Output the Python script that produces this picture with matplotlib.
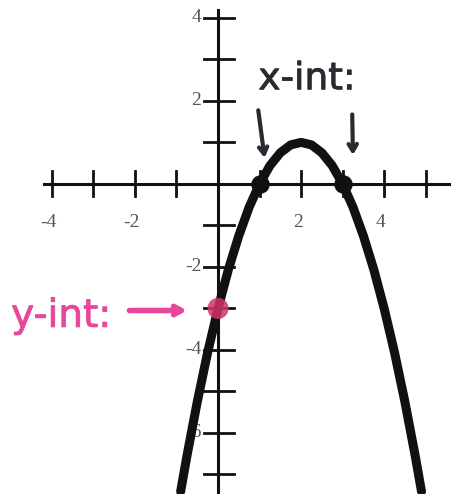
import numpy as np
import matplotlib
matplotlib.use("Agg")
import matplotlib.pyplot as plt
import matplotlib.patheffects as pe

# parabola
curve_x = [-0.9, -0.75, -0.5, -0.25, 0, 0.25, 0.5, 0.75, 1, 1.25, 1.5, 1.75, 2,
           2.25, 2.5, 2.75, 3, 3.25, 3.5, 3.75, 4, 4.25, 4.5, 4.75, 4.9]
curve_y = [-7.41, -6.56, -5.25, -4.06, -3, -2.06, -1.25, -0.56, 0, 0.44, 0.75, 0.94, 1,
           0.94, 0.75, 0.44, 0, -0.56, -1.25, -2.06, -3, -4.06, -5.25, -6.56, -7.41]

x_int_x = [1, 3]
x_int_y = [0, 0]
y_int_x = [0]
y_int_y = [-3]

x_ticks = [-4, -3, -2, -1, 1, 2, 3, 4, 5]
y_ticks = [4, 3, 2, 1, -1, -2, -3, -4, -5, -6, -7]
x_labels = {-4: "-4", -2: "-2", 2: "2", 4: "4"}
y_labels = {4: "4", 2: "2", -2: "-2", -4: "-4", -6: "-6"}

ink = "#111111"
pink = "#e8489b"

fig = plt.figure(figsize=(4.51, 4.94), dpi=100)
ax = fig.add_axes([0, 0, 1, 1])
ax.set_xlim(-5.25, 5.61)
ax.set_ylim(-7.47, 4.43)
ax.axis("off")

# axes
ax.plot([-4.2, 5.61], [0, 0], color=ink, lw=2.2, zorder=2)
ax.plot([0, 0], [-7.47, 4.2], color=ink, lw=2.2, zorder=2)
for t in x_ticks:
    ax.plot([t, t], [-0.3, 0.3], color=ink, lw=2, zorder=2)
for t in y_ticks:
    ax.plot([-0.34, 0.38], [t, t], color=ink, lw=2, zorder=2)

serif = dict(family="Liberation Serif", fontsize=14, color="#555555")
for t, s in x_labels.items():
    ax.text(t - 0.08, -0.92, s, ha="center", va="center", **serif)
for t, s in y_labels.items():
    ax.text(-0.4, t, s, ha="right", va="center", **serif)

# curve
ax.plot(curve_x, curve_y, color=ink, lw=6.5, solid_capstyle="round",
        solid_joinstyle="round", zorder=3)
ax.scatter(x_int_x, x_int_y, s=150, color=ink, zorder=4)
ax.scatter(y_int_x, y_int_y, s=230, color="#d2336a", alpha=0.85, zorder=4,
           edgecolors="none")

# annotations
hand = [pe.Stroke(linewidth=0.6, foreground="#2a2a33"), pe.Normal()]
ax.text(2.14, 2.52, "x-int:", ha="center", va="center", fontsize=27,
        family="DejaVu Sans", color="#2a2a33", path_effects=hand)
for (x0, y0, x1, y1) in [(0.96, 1.84, 1.13, 0.56), (3.23, 1.74, 3.25, 0.63)]:
    ax.annotate("", xy=(x1, y1), xytext=(x0, y0),
                arrowprops=dict(arrowstyle="->,head_length=0.5,head_width=0.3",
                                color="#2a2a33", lw=3, capstyle="round"))

ax.text(-3.78, -3.18, "y-int:", ha="center", va="center", fontsize=28,
        family="DejaVu Sans", color=pink,
        path_effects=[pe.Stroke(linewidth=0.6, foreground=pink), pe.Normal()])
ax.annotate("", xy=(-0.68, -3.05), xytext=(-2.2, -3.05),
            arrowprops=dict(arrowstyle="->,head_length=0.55,head_width=0.3",
                            color=pink, lw=4, capstyle="round"))

fig.savefig("out.png", dpi=100, facecolor="white")
